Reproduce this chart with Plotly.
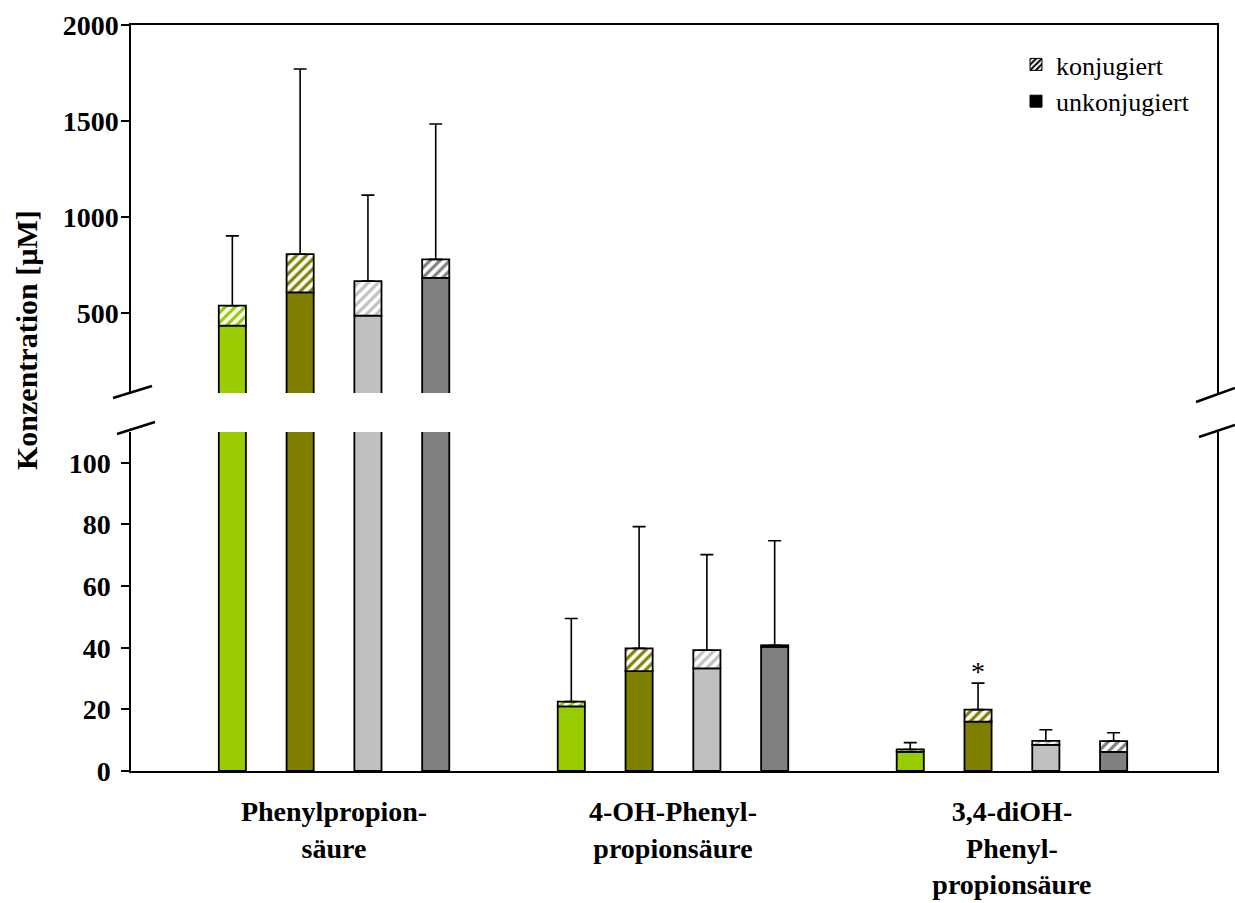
import plotly.graph_objects as go

# ---- data ----
categories = ["Phenylpropion-<br>säure", "4-OH-Phenyl-<br>propionsäure", "3,4-diOH-<br>Phenyl-<br>propionsäure"]
series_names = ["Gruppe 1", "Gruppe 2", "Gruppe 3", "Gruppe 4"]
series_colors = ["#99CC00", "#808000", "#C0C0C0", "#808080"]

unconj_1 = [436, 21.0, 6.2]
conj_1 = [104, 1.5, 0.8]
sd_1 = [363, 27.0, 2.2]

unconj_2 = [609, 32.4, 16.0]
conj_2 = [199, 7.4, 3.9]
sd_2 = [963, 39.5, 8.6]

unconj_3 = [488, 33.3, 8.5]
conj_3 = [180, 5.9, 1.3]
sd_3 = [447, 31.0, 3.6]

unconj_4 = [685, 40.3, 6.2]
conj_4 = [96, 0.5, 3.5]
sd_4 = [704, 33.9, 2.7]

lower_ticks = [0, 20, 40, 60, 80, 100]
upper_ticks = [500, 1000, 1500, 2000]
legend_labels = ["konjugiert", "unkonjugiert"]
y_title = "Konzentration [µM]"

unconj_all = [unconj_1, unconj_2, unconj_3, unconj_4]
conj_all = [conj_1, conj_2, conj_3, conj_4]
sd_all = [sd_1, sd_2, sd_3, sd_4]

SERIF = "Liberation Serif, Times New Roman, serif"
W, H = 1235, 903
ML, MR, MT, MB = 131, 18, 25, 132
pw = W - ML - MR
ph = H - MT - MB

fig = go.Figure()

for yax, xax in (("y", "x"), ("y2", "x2")):
    for i in range(4):
        col = series_colors[i]
        fig.add_trace(go.Bar(
            x=categories, y=unconj_all[i], offsetgroup=str(i), xaxis=xax, yaxis=yax,
            name=series_names[i],
            marker=dict(color=col, line=dict(color="black", width=1.8)),
            showlegend=False, hoverinfo="skip"))
        fig.add_trace(go.Bar(
            x=categories, y=conj_all[i], base=unconj_all[i], offsetgroup=str(i),
            xaxis=xax, yaxis=yax, name=series_names[i],
            marker=dict(color="white", line=dict(color="black", width=1.8),
                        pattern=dict(shape="/", fgcolor=col, bgcolor="white",
                                     size=7, solidity=0.45, fillmode="replace")),
            error_y=dict(type="data", array=sd_all[i], symmetric=False,
                         arrayminus=[0] * len(categories),
                         color="black", thickness=1.6, width=6.5),
            showlegend=False, hoverinfo="skip"))

# legend entries
fig.add_trace(go.Bar(x=[None], y=[None], name=legend_labels[0],
                     marker=dict(color="white", line=dict(color="black", width=1),
                                 pattern=dict(shape="/", fgcolor="black", bgcolor="white",
                                              size=5, solidity=0.5, fillmode="replace"))))
fig.add_trace(go.Bar(x=[None], y=[None], name=legend_labels[1],
                     marker=dict(color="black", line=dict(color="black", width=1))))

# star above series 2 in group 3
fig.add_annotation(x=2 - 0.1, y=unconj_2[2] + conj_2[2] + sd_2[2], xref="x", yref="y",
                   text="*", showarrow=False, yanchor="bottom", yshift=-6,
                   font=dict(family=SERIF, size=28, color="black"))

lower_dom = [0, (H - MB - 432) / ph]
upper_dom = [(H - MB - 393) / ph, 1]

tickfont = dict(family=SERIF, size=28, color="black", weight="bold")

fig.update_layout(
    width=W, height=H, margin=dict(l=ML, r=MR, t=MT, b=MB),
    paper_bgcolor="white", plot_bgcolor="white",
    barmode="group", bargap=0.2, bargroupgap=0.6,
    xaxis=dict(domain=[0, 1], anchor="y", range=[-0.599, 2.605], showgrid=False,
               showline=True, linecolor="black", linewidth=1.5, ticks="",
               tickfont=dict(family=SERIF, size=28, color="black", weight="bold"),
               ticklabelstandoff=15, zeroline=False, automargin=False),
    xaxis2=dict(domain=[0, 1], anchor="y2", matches="x", side="top", showgrid=False,
                showline=True, linecolor="black", linewidth=1.5, ticks="",
                showticklabels=False, zeroline=False, automargin=False),
    yaxis=dict(domain=lower_dom, range=[0, 110], tickvals=lower_ticks, showgrid=False,
               zeroline=False, showline=True, mirror=True, linecolor="black", linewidth=1.5,
               ticks="outside", ticklen=8, tickcolor="black", tickwidth=1.5,
               tickfont=tickfont, ticklabelstandoff=5, automargin=False),
    yaxis2=dict(domain=upper_dom, range=[86, 2000], tickvals=upper_ticks, showgrid=False,
                zeroline=False, showline=True, mirror=True, linecolor="black", linewidth=1.5,
                ticks="outside", ticklen=8, tickcolor="black", tickwidth=1.5,
                tickfont=tickfont, ticklabelstandoff=-3, automargin=False),
    legend=dict(x=(1016 - ML) / pw, y=(H - MB - 41) / ph,
                xanchor="left", yanchor="top", bgcolor="rgba(0,0,0,0)",
                font=dict(family=SERIF, size=26, color="black"), traceorder="normal",
                itemwidth=30, tracegroupgap=0),
    showlegend=True,
)

# y-axis title
fig.add_annotation(x=(27 - ML) / pw, y=(H - MB - 340) / ph, xref="paper", yref="paper",
                   text=y_title, textangle=-90, showarrow=False,
                   xanchor="center", yanchor="middle",
                   font=dict(family=SERIF, size=30, color="black", weight="bold"))

# axis break marks
def px2paper(px, py):
    return (px - ML) / pw, (H - MB - py) / ph

for (x0, y0, x1, y1) in [(113, 398, 152, 386), (117, 434, 155, 422),
                         (1196, 402, 1235, 388), (1199, 437, 1235, 425)]:
    a0 = px2paper(x0, y0)
    a1 = px2paper(x1, y1)
    fig.add_shape(type="line", xref="paper", yref="paper", x0=a0[0], y0=a0[1],
                  x1=a1[0], y1=a1[1], line=dict(color="black", width=2.5))

fig.write_html("out.html")
